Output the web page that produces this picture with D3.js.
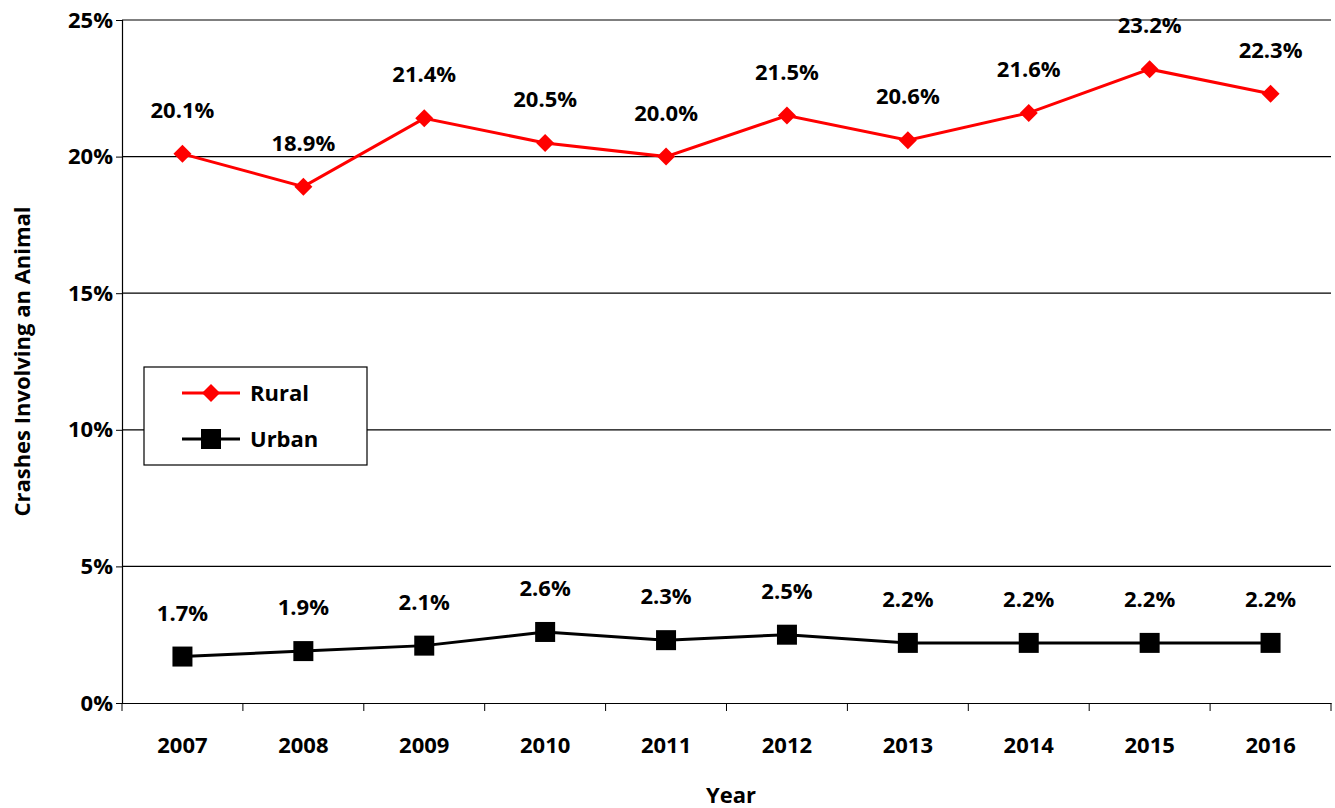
<!DOCTYPE html>
<html><head><meta charset="utf-8">
<script src="https://cdn.jsdelivr.net/npm/d3@7"></script>
<style>body{margin:0;background:#fff}text{font-family:"Open Sans","Liberation Sans",sans-serif;font-weight:bold}</style>
</head><body><svg id="chart" width="1335" height="808"></svg>
<script>
var years = ['2007','2008','2009','2010','2011','2012','2013','2014','2015','2016'];
var rural = [20.1, 18.9, 21.4, 20.5, 20.0, 21.5, 20.6, 21.6, 23.2, 22.3];
var urban = [1.7, 1.9, 2.1, 2.6, 2.3, 2.5, 2.2, 2.2, 2.2, 2.2];
var yTicks = [0, 5, 10, 15, 20, 25];

var svg = d3.select('#chart');
var plotL = 122, plotR = 1331, plotT = 20, plotB = 703;
var x = d3.scaleBand().domain(years).range([plotL, plotR]);
var y = d3.scaleLinear().domain([0, 25]).range([plotB, plotT]);

// gridlines
svg.selectAll('.grid').data(yTicks.slice(1)).enter().append('line')
  .attr('x1', plotL).attr('x2', plotR)
  .attr('y1', function (d) { return y(d); }).attr('y2', function (d) { return y(d); })
  .attr('stroke', '#000').attr('stroke-width', 1.2);

var yAxis = svg.append('g').attr('transform', 'translate(' + plotL + ',0)')
  .call(d3.axisLeft(y).tickValues(yTicks).tickSize(6).tickFormat(function (d) { return d + '%'; }));
var xAxis = svg.append('g').attr('transform', 'translate(0,' + plotB + ')')
  .call(d3.axisBottom(x).tickSize(0).tickPadding(34));
xAxis.selectAll('.tick').append('line').attr('x1', x.bandwidth() / 2).attr('x2', x.bandwidth() / 2)
  .attr('y1', 0).attr('y2', 8).attr('stroke', '#000');
svg.append('line').attr('x1', plotL).attr('x2', plotL).attr('y1', plotB).attr('y2', plotB + 8).attr('stroke', '#000');
[yAxis, xAxis].forEach(function (a) {
  a.selectAll('text').attr('font-size', 22).attr('fill', '#000');
  a.select('.domain').attr('stroke', '#000').attr('stroke-width', 1.2);
});
yAxis.selectAll('.tick line').attr('stroke', '#000');

svg.append('text').attr('x', 731).attr('y', 803).attr('text-anchor', 'middle').attr('font-size', 22).text('Year');
svg.append('text').attr('transform', 'translate(30,' + ((plotT + plotB) / 2) + ') rotate(-90)')
  .attr('text-anchor', 'middle').attr('font-size', 22).text('Crashes Involving an Animal');

var cx = function (d, i) { return x(years[i]) + x.bandwidth() / 2; };
var line = d3.line().x(function (d, i) { return cx(d, i); }).y(function (d) { return y(d); });

function series(vals, color, shape) {
  svg.append('path').datum(vals).attr('d', line).attr('fill', 'none').attr('stroke', color).attr('stroke-width', 3);
  svg.selectAll(null).data(vals).enter().append('path')
    .attr('transform', function (d, i) { return 'translate(' + cx(d, i) + ',' + y(d) + ')'; })
    .attr('d', shape).attr('fill', color);
  svg.selectAll(null).data(vals).enter().append('text')
    .attr('x', cx).attr('y', function (d) { return y(d) - 36; })
    .attr('text-anchor', 'middle').attr('font-size', 22).text(function (d) { return d.toFixed(1) + '%'; });
}
var diamond = 'M0,-9L9,0L0,9L-9,0Z';
var square = 'M-10,-10H10V10H-10Z';
series(rural, '#ff0000', diamond);
series(urban, '#000', square);

// legend
var lg = svg.append('g');
lg.append('rect').attr('x', 144).attr('y', 367).attr('width', 223).attr('height', 98)
  .attr('fill', '#fff').attr('stroke', '#000').attr('stroke-width', 1.2);
[['Rural', '#ff0000', diamond, 393], ['Urban', '#000', square, 439]].forEach(function (l) {
  lg.append('line').attr('x1', 182).attr('x2', 240).attr('y1', l[3]).attr('y2', l[3]).attr('stroke', l[1]).attr('stroke-width', 3);
  lg.append('path').attr('d', l[2]).attr('fill', l[1]).attr('transform', 'translate(211,' + l[3] + ')');
  lg.append('text').attr('x', 250).attr('y', l[3] + 8).attr('font-size', 22).text(l[0]);
});
</script></body></html>
